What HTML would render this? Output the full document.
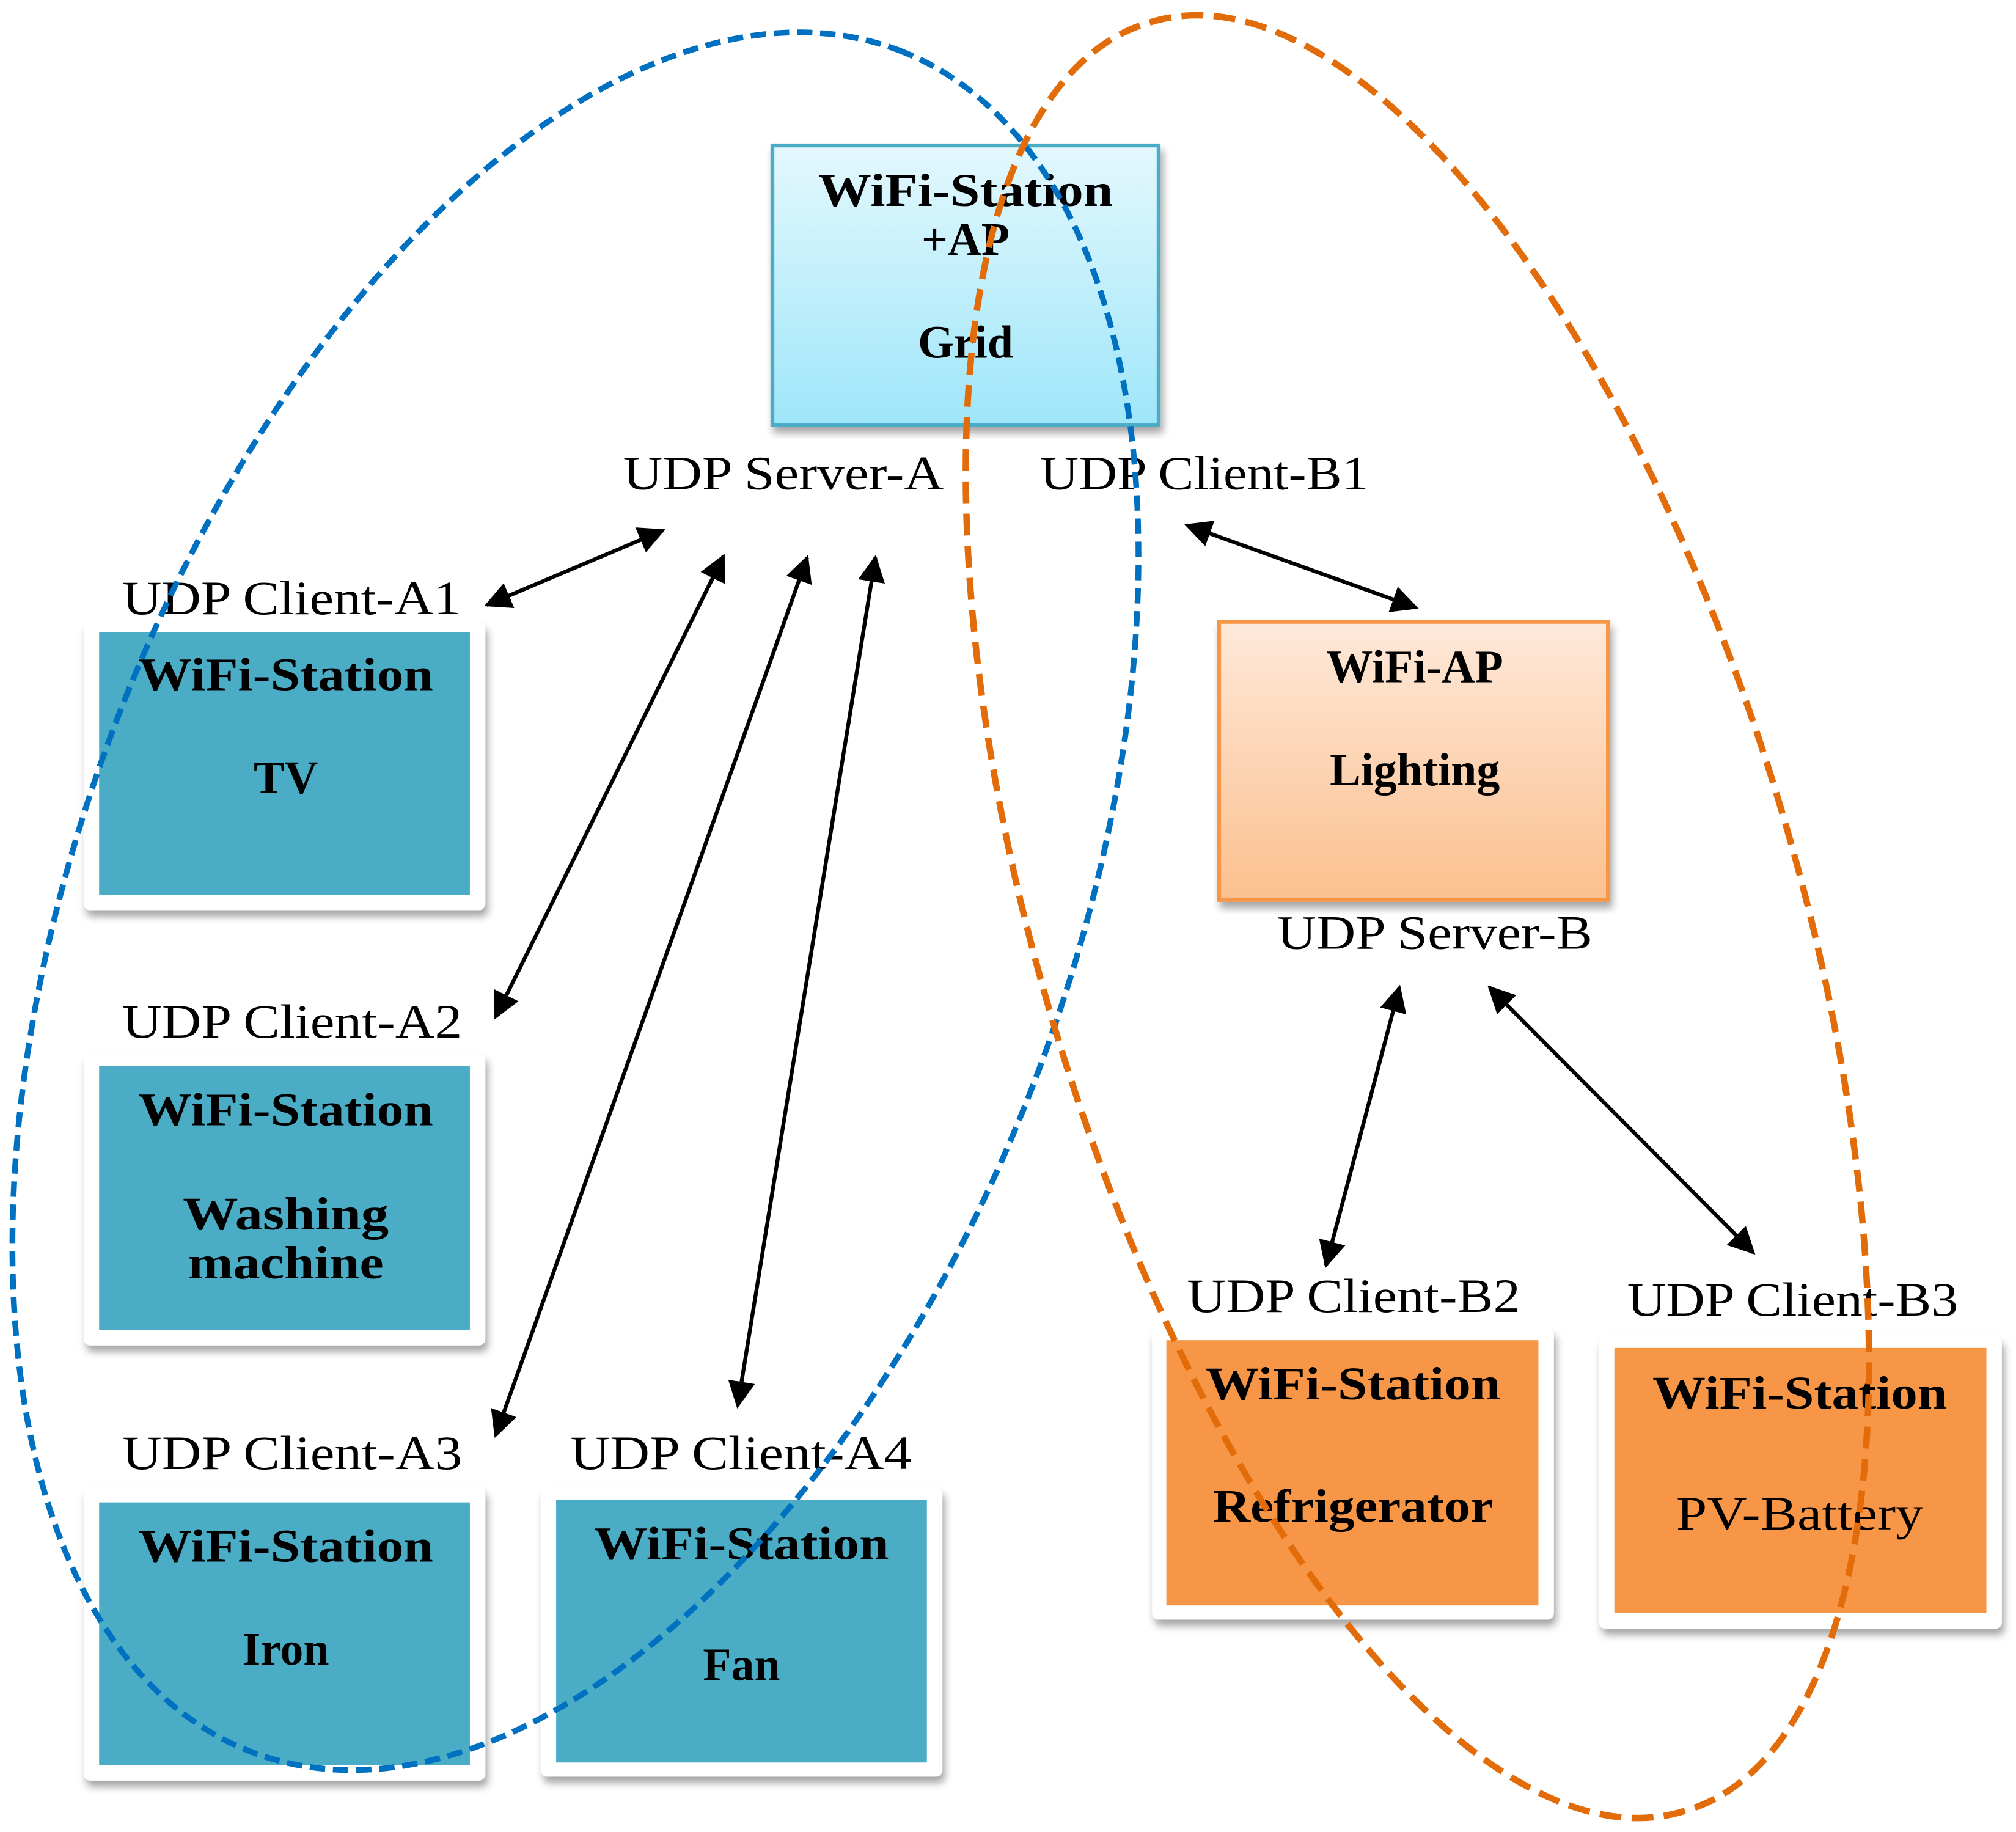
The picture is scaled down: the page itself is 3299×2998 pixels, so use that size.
<!DOCTYPE html>
<html><head><meta charset="utf-8"><style>
html,body{margin:0;padding:0;background:#fff;width:3299px;height:2998px;overflow:hidden;}
svg{display:block;}
.b{font-family:"Liberation Serif",serif;font-weight:bold;font-size:36px;fill:#000;}
.r{font-family:"Liberation Serif",serif;font-size:37px;fill:#000;}
</style></head><body>
<svg width="3299" height="2998" viewBox="0 0 1566 1423" preserveAspectRatio="none" xmlns="http://www.w3.org/2000/svg" style="overflow:hidden">
<defs>
<linearGradient id="gb" x1="0" y1="0" x2="0" y2="1"><stop offset="0" stop-color="#e3f8fd"/><stop offset="1" stop-color="#9fe6f9"/></linearGradient>
<linearGradient id="go" x1="0" y1="0" x2="0" y2="1"><stop offset="0" stop-color="#fee9da"/><stop offset="1" stop-color="#fbc08e"/></linearGradient>
<filter id="sh" x="-5%" y="-5%" width="110%" height="110%"><feDropShadow dx="2" dy="5" stdDeviation="3" flood-color="#000" flood-opacity="0.35"/></filter>
<marker id="ah" viewBox="0 0 10 10" refX="9" refY="5" markerWidth="7" markerHeight="7" orient="auto-start-reverse" markerUnits="strokeWidth"><path d="M0,0 L10,5 L0,10 z" fill="#000"/></marker>
</defs>

<rect x="600" y="113" width="300" height="217" fill="url(#gb)" stroke="#4bacc6" stroke-width="3" filter="url(#sh)"/>
<text class="b" x="750" y="160" text-anchor="middle" textLength="229" lengthAdjust="spacingAndGlyphs">WiFi-Station</text>
<text class="b" x="750" y="198" text-anchor="middle">+AP</text>
<text class="b" x="750" y="278" text-anchor="middle">Grid</text>

<rect x="947" y="483" width="302" height="216" fill="url(#go)" stroke="#f79646" stroke-width="3" filter="url(#sh)"/>
<text class="b" x="1099" y="530" text-anchor="middle">WiFi-AP</text>
<text class="b" x="1099" y="610" text-anchor="middle">Lighting</text>

<rect x="65" y="483" width="312" height="224" rx="5" fill="#fff" filter="url(#sh)"/>
<rect x="65" y="818" width="312" height="227" rx="5" fill="#fff" filter="url(#sh)"/>
<rect x="65" y="1155" width="312" height="228" rx="5" fill="#fff" filter="url(#sh)"/>
<rect x="420" y="1155" width="312" height="225" rx="5" fill="#fff" filter="url(#sh)"/>
<rect x="895" y="1032" width="312" height="226" rx="5" fill="#fff" filter="url(#sh)"/>
<rect x="1242" y="1038" width="313" height="227" rx="5" fill="#fff" filter="url(#sh)"/>
<rect x="77" y="491" width="288" height="204" fill="#4bacc6"/>
<rect x="77" y="828" width="288" height="205" fill="#4bacc6"/>
<rect x="77" y="1167" width="288" height="204" fill="#4bacc6"/>
<rect x="432" y="1165" width="288" height="204" fill="#4bacc6"/>
<rect x="906" y="1041" width="289" height="206" fill="#f79646"/>
<rect x="1254" y="1047" width="289" height="206" fill="#f79646"/>

<text class="b" x="222" y="536" text-anchor="middle" textLength="229" lengthAdjust="spacingAndGlyphs">WiFi-Station</text>
<text class="b" x="222" y="616" text-anchor="middle">TV</text>
<text class="b" x="222" y="874" text-anchor="middle" textLength="229" lengthAdjust="spacingAndGlyphs">WiFi-Station</text>
<text class="b" x="222" y="955" text-anchor="middle" textLength="160" lengthAdjust="spacingAndGlyphs">Washing</text>
<text class="b" x="222" y="993" text-anchor="middle" textLength="152" lengthAdjust="spacingAndGlyphs">machine</text>
<text class="b" x="222" y="1213" text-anchor="middle" textLength="229" lengthAdjust="spacingAndGlyphs">WiFi-Station</text>
<text class="b" x="222" y="1293" text-anchor="middle">Iron</text>
<text class="b" x="576" y="1211" text-anchor="middle" textLength="229" lengthAdjust="spacingAndGlyphs">WiFi-Station</text>
<text class="b" x="576" y="1305" text-anchor="middle">Fan</text>
<text class="b" x="1051" y="1087" text-anchor="middle" textLength="229" lengthAdjust="spacingAndGlyphs">WiFi-Station</text>
<text class="b" x="1051" y="1182" text-anchor="middle" textLength="218" lengthAdjust="spacingAndGlyphs">Refrigerator</text>
<text class="b" x="1398" y="1094" text-anchor="middle" textLength="229" lengthAdjust="spacingAndGlyphs">WiFi-Station</text>
<text class="r" x="1398" y="1188" text-anchor="middle" textLength="192" lengthAdjust="spacingAndGlyphs">PV-Battery</text>

<text class="r" x="484" y="380" textLength="249" lengthAdjust="spacingAndGlyphs">UDP Server-A</text>
<text class="r" x="808" y="380" textLength="255" lengthAdjust="spacingAndGlyphs">UDP Client-B1</text>
<text class="r" x="95" y="477" textLength="263" lengthAdjust="spacingAndGlyphs">UDP Client-A1</text>
<text class="r" x="95" y="806" textLength="264" lengthAdjust="spacingAndGlyphs">UDP Client-A2</text>
<text class="r" x="95" y="1141" textLength="264" lengthAdjust="spacingAndGlyphs">UDP Client-A3</text>
<text class="r" x="443" y="1141" textLength="265" lengthAdjust="spacingAndGlyphs">UDP Client-A4</text>
<text class="r" x="992" y="737" textLength="245" lengthAdjust="spacingAndGlyphs">UDP Server-B</text>
<text class="r" x="922" y="1019" textLength="259" lengthAdjust="spacingAndGlyphs">UDP Client-B2</text>
<text class="r" x="1264" y="1022" textLength="257" lengthAdjust="spacingAndGlyphs">UDP Client-B3</text>

<g stroke="#000" stroke-width="3" marker-start="url(#ah)" marker-end="url(#ah)" fill="none">
<line x1="378" y1="470" x2="515" y2="412"/>
<line x1="385" y1="790" x2="562" y2="432"/>
<line x1="385" y1="1115" x2="627" y2="433"/>
<line x1="573" y1="1092" x2="680" y2="433"/>
<line x1="922" y1="408" x2="1100" y2="472"/>
<line x1="1030" y1="983" x2="1087" y2="767"/>
<line x1="1362" y1="973" x2="1157" y2="767"/>
</g>

<path d="M698.1,39 A383,707 20.8 1,1 195.9,1361 A383,707 20.8 1,1 698.1,39 Z" fill="none" stroke="#0070c0" stroke-width="4.5" stroke-dasharray="12 6"/>
<path d="M893.3,17.4 A293,725 -16.65 1,1 1308.7,1406.6 A293,725 -16.65 1,1 893.3,17.4 Z" fill="none" stroke="#e36c0a" stroke-width="5" stroke-dasharray="17 8"/>
</svg>
</body></html>
